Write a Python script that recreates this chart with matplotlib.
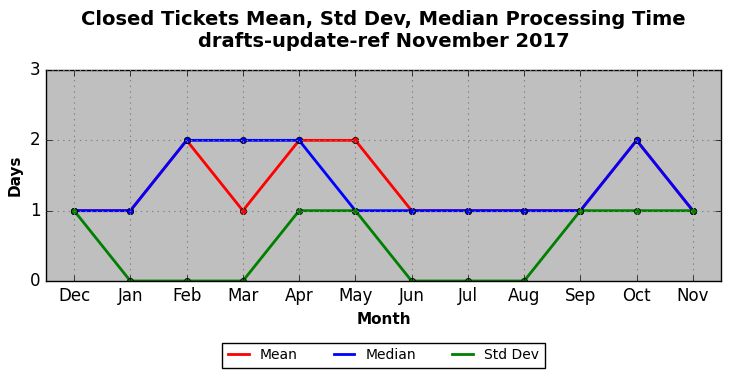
import matplotlib
matplotlib.use('Agg')
import matplotlib.pyplot as plt

plt.style.use('classic')

months = ['Dec', 'Jan', 'Feb', 'Mar', 'Apr', 'May', 'Jun', 'Jul', 'Aug', 'Sep', 'Oct', 'Nov']
mean = [1, 1, 2, 1, 2, 2, 1, 1, 1, 1, 2, 1]
median = [1, 1, 2, 2, 2, 1, 1, 1, 1, 1, 2, 1]
std_dev = [1, 0, 0, 0, 1, 1, 0, 0, 0, 1, 1, 1]

fig = plt.figure(figsize=(7.3, 3.78), dpi=100, facecolor='white')
ax = fig.add_axes([46/730, 1 - 281/378, 675/730, 211/378])
ax.set_facecolor('#bfbfbf')

x = range(len(months))
ax.plot(x, mean, color='red', lw=2, marker='o', ms=4.5, mec='black', mew=0.5, label='Mean')
ax.plot(x, median, color='blue', lw=2, marker='o', ms=4.5, mec='black', mew=0.5, label='Median')
ax.plot(x, std_dev, color='green', lw=2, marker='o', ms=4.5, mec='black', mew=0.5, label='Std Dev')

ax.set_xlim(-0.5, len(months) - 0.5)
ax.set_ylim(0, 3)
ax.set_yticks([0, 1, 2, 3])
ax.set_xticks(list(x))
ax.set_xticklabels(months)
ax.tick_params(labelsize=12)
ax.grid(True, color='gray', linestyle=':', linewidth=0.8)

ax.set_xlabel('Month', fontsize=11, fontweight='bold')
ax.set_ylabel('Days', fontsize=11, fontweight='bold')
ax.set_title('Closed Tickets Mean, Std Dev, Median Processing Time\ndrafts-update-ref November 2017',
             fontsize=14, fontweight='bold', y=1.078)

leg = ax.legend(loc='upper center', bbox_to_anchor=(0.5, -0.26), ncol=3, fontsize=10,
                fancybox=False, frameon=True, numpoints=1, handlelength=1.5,
                columnspacing=2.6)
for h in leg.legend_handles:
    h.set_marker('')

fig.savefig('out.png', dpi=100, facecolor='white')
